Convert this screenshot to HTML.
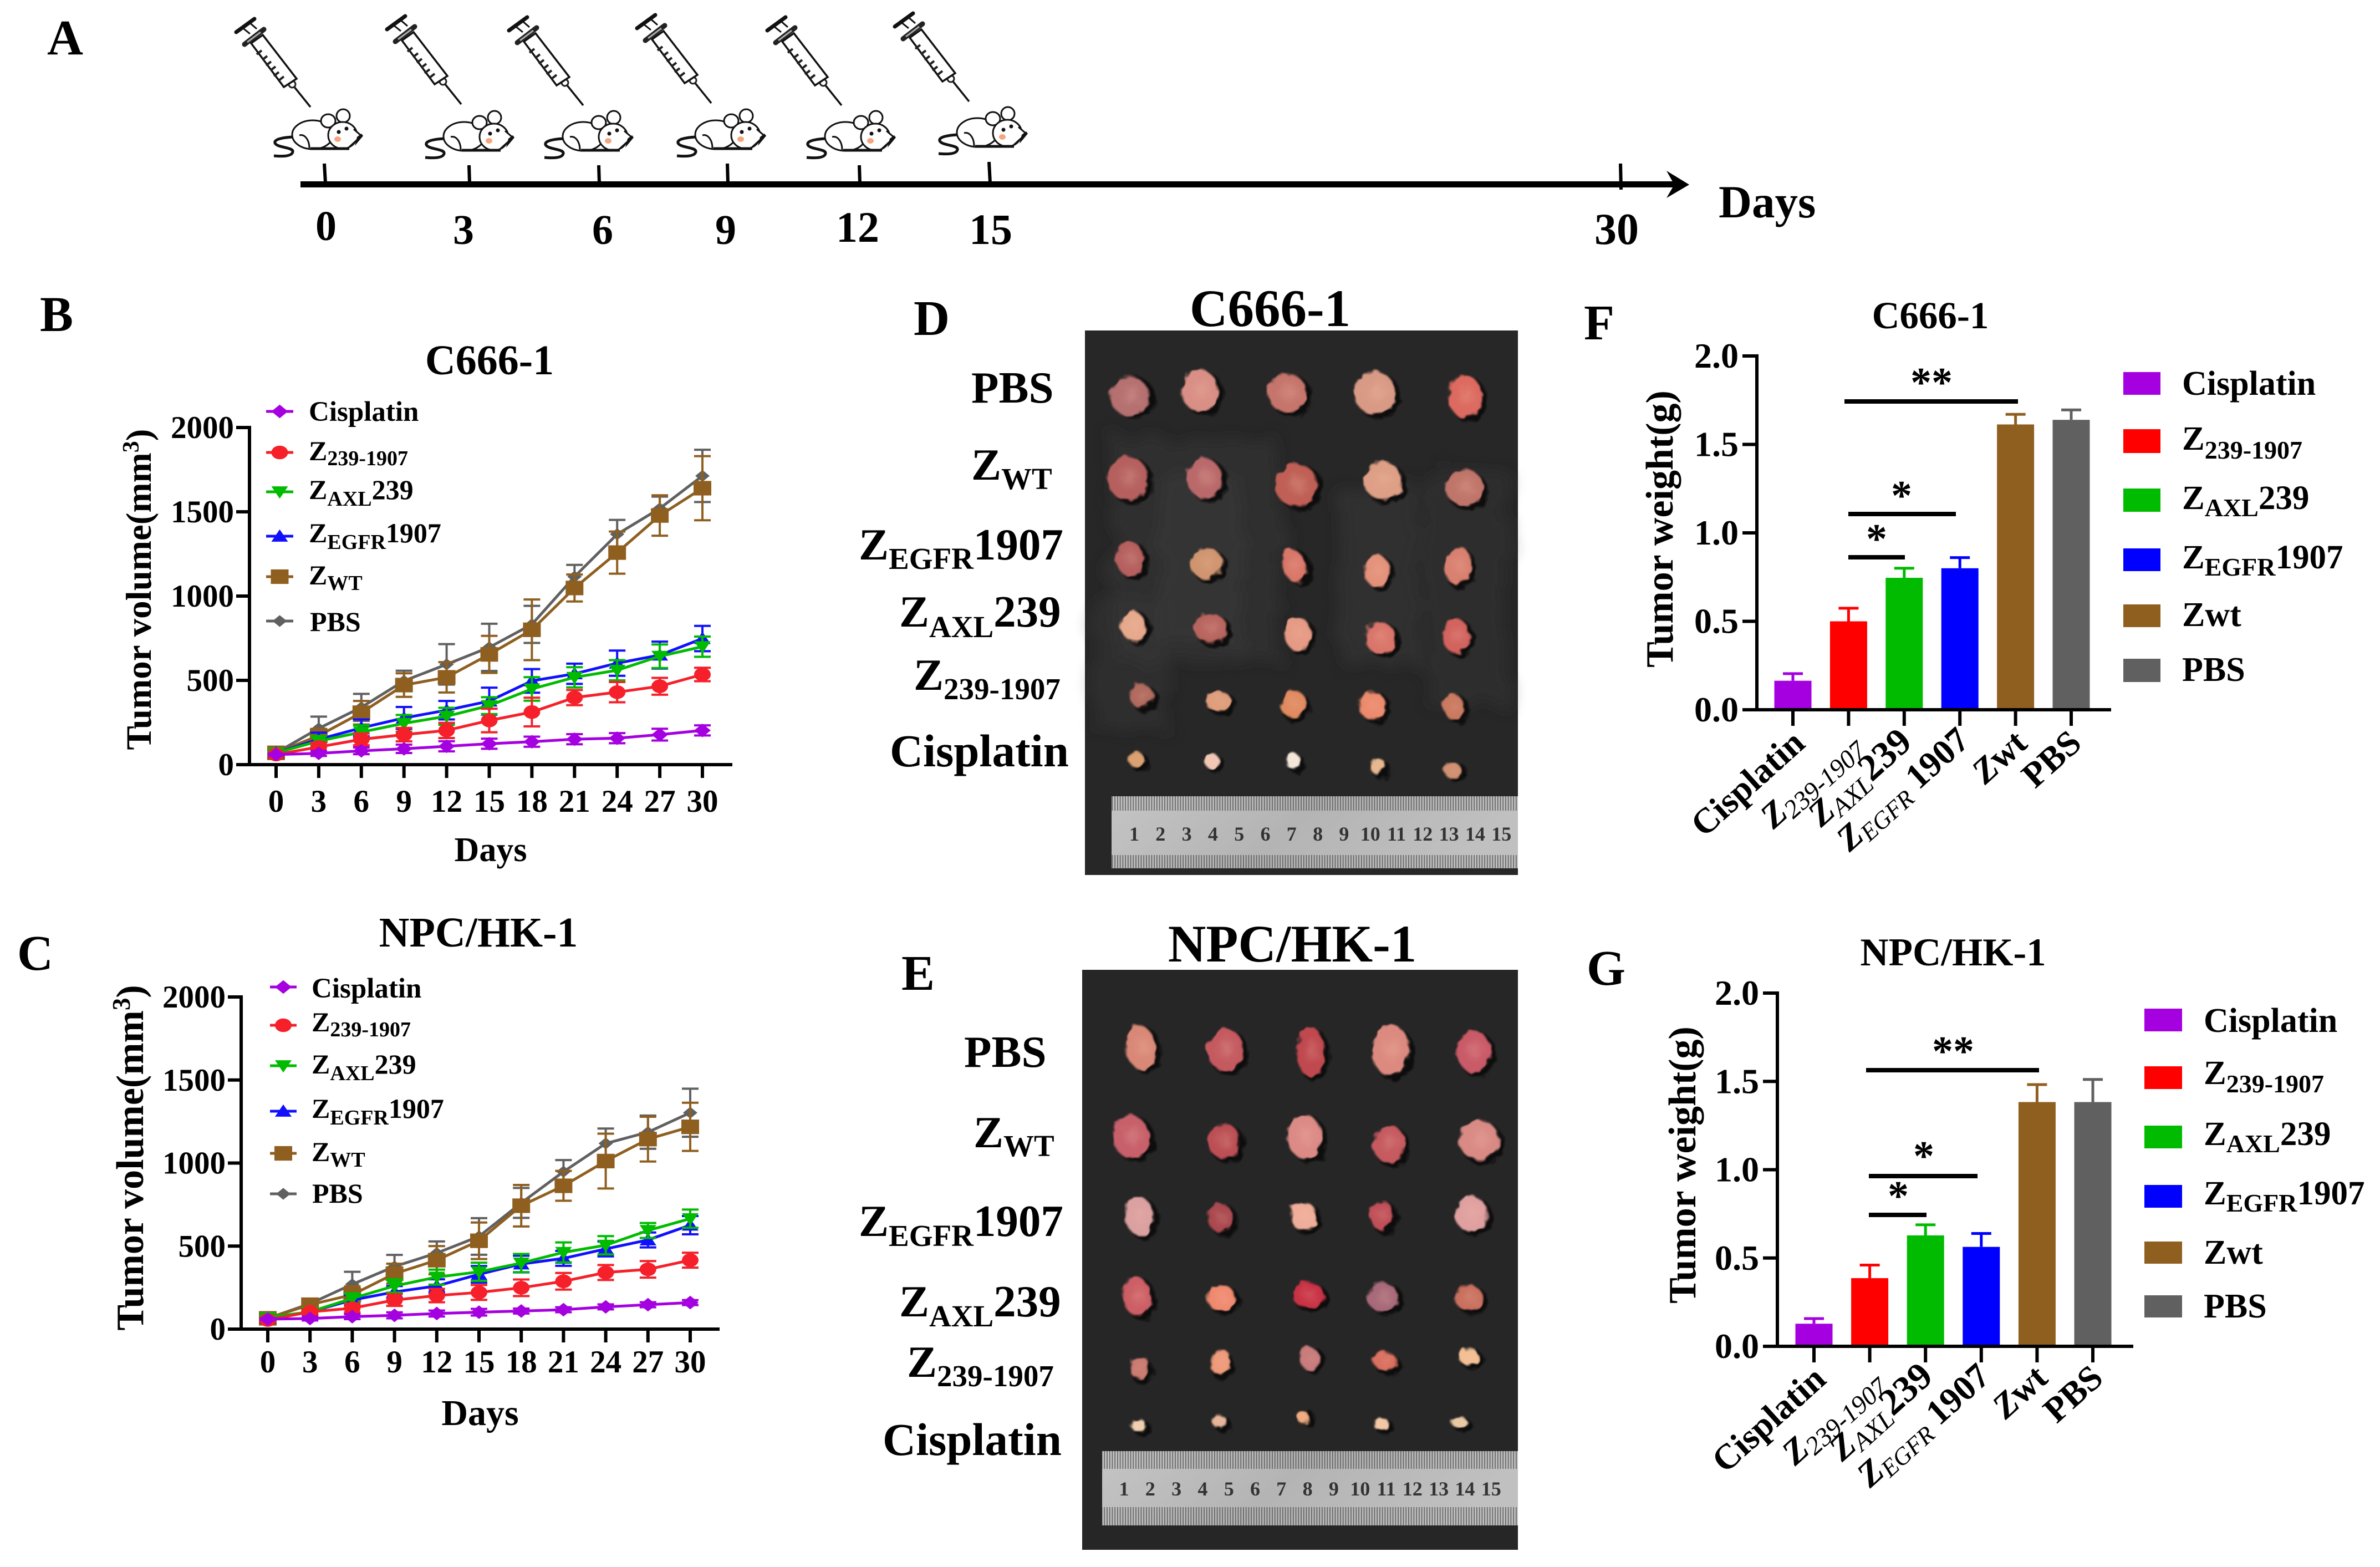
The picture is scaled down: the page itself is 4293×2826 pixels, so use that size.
<!DOCTYPE html>
<html lang="en">
<head>
<meta charset="utf-8">
<title>Tumor study figure</title>
<style>
html,body{margin:0;padding:0;background:#fff;}
svg{display:block;}
text{font-family:"Liberation Serif",serif;font-weight:bold;fill:#000;}
.thin{font-weight:normal;}
.ital{font-style:italic;}
</style>
</head>
<body>
<svg id="fig" xmlns="http://www.w3.org/2000/svg" width="4293" height="2826" viewBox="0 0 4293 2826">
<defs>
  <g id="syringe-shape">
    <line x1="0" y1="0" x2="-29" y2="-36" stroke="#111" stroke-width="3.5"/>
    <circle cx="-33" cy="-41" r="6" fill="#fff" stroke="#222" stroke-width="3"/>
    <polygon points="-107,-115 -86,-130 -25,-51 -48,-36" fill="#fff" stroke="#111" stroke-width="3.5"/>
    <path d="M-88,-102l-9,7M-78,-92l-9,7M-71,-82l-9,7M-63,-73l-9,7M-57,-63l-9,7M-48,-55l-9,7" stroke="#222" stroke-width="4" fill="none"/>
    <line x1="-119" y1="-113" x2="-84" y2="-140" stroke="#222" stroke-width="9" stroke-linecap="round"/>
    <line x1="-114" y1="-117" x2="-90" y2="-135" stroke="#aaa" stroke-width="3"/>
    <line x1="-109" y1="-132" x2="-124" y2="-144" stroke="#111" stroke-width="3"/>
    <line x1="-97" y1="-141" x2="-112" y2="-154" stroke="#111" stroke-width="3"/>
    <line x1="-134" y1="-135" x2="-101" y2="-159" stroke="#111" stroke-width="7" stroke-linecap="round"/>
  </g>
  <g id="mouse-shape" fill="#fff" stroke="#111" stroke-width="3">
    <path d="M36,50 C18,51 2,54 4,61 C8,70 38,68 36,77 C34,86 14,85 2,84" fill="none" stroke-width="5"/>
    <ellipse cx="72" cy="46" rx="37" ry="26"/>
    <ellipse cx="100" cy="21" rx="13" ry="12"/>
    <ellipse cx="127" cy="12" rx="12" ry="12"/>
    <ellipse cx="126" cy="47" rx="26" ry="24"/>
    <path d="M146,36 L160,48 L138,68" fill="#fff"/>
    <path d="M152,50 L160,44 L163,48 L148,66 Z" fill="#111" stroke="none"/>
    <path d="M48,47 C58,44 66,56 66,70" fill="none"/>
    <path d="M68,71 L138,71" stroke-width="5" fill="none"/>
    <circle cx="119" cy="41" r="3.5" fill="#111" stroke="none"/>
    <circle cx="133" cy="35" r="3.5" fill="#111" stroke="none"/>
    <ellipse cx="117" cy="54" rx="6" ry="5" fill="#f5a67f" stroke="none"/>
  </g>
  <filter id="soft" x="-30%" y="-30%" width="160%" height="160%"><feGaussianBlur stdDeviation="1.6"/></filter>
  <filter id="softer" x="-60%" y="-60%" width="220%" height="220%"><feGaussianBlur stdDeviation="7"/></filter>
  <filter id="patchblur" x="-20%" y="-20%" width="140%" height="140%">
    <feTurbulence type="fractalNoise" baseFrequency="0.02" numOctaves="3" seed="4" result="n"/>
    <feDisplacementMap in="SourceGraphic" in2="n" scale="60" result="d"/>
    <feGaussianBlur in="d" stdDeviation="12"/>
  </filter>
  <filter id="rough" x="-5%" y="-5%" width="110%" height="110%">
    <feTurbulence type="fractalNoise" baseFrequency="0.05" numOctaves="2" seed="7" result="n"/>
    <feDisplacementMap in="SourceGraphic" in2="n" scale="13"/>
  </filter>
  <pattern id="ruler-ticks" width="4.73" height="10" patternUnits="userSpaceOnUse"><rect width="1.8" height="10" fill="#444"/></pattern>
  <linearGradient id="ruler-grad" x1="0" y1="0" x2="1" y2="0.2"><stop offset="0" stop-color="#c4c4c4"/><stop offset=".5" stop-color="#b4b4b4"/><stop offset="1" stop-color="#c0c0c0"/></linearGradient>
</defs>
<rect width="4293" height="2826" fill="#fff"/>

<!-- panel letters -->
<text x="85" y="98" font-size="90">A</text>
<text x="72" y="597" font-size="90">B</text>
<text x="31" y="1749" font-size="90">C</text>
<text x="1648" y="604" font-size="90">D</text>
<text x="1626" y="1785" font-size="90">E</text>
<text x="2857" y="612" font-size="90">F</text>
<text x="2862" y="1776" font-size="90">G</text>

<!-- panel A timeline -->
<g>
  <use href="#syringe-shape" transform="translate(560,193)"/>
  <use href="#syringe-shape" transform="translate(832,188)"/>
  <use href="#syringe-shape" transform="translate(1052,190)"/>
  <use href="#syringe-shape" transform="translate(1283,186)"/>
  <use href="#syringe-shape" transform="translate(1518,190)"/>
  <use href="#syringe-shape" transform="translate(1748,183)"/>
  <use href="#mouse-shape" transform="translate(492,197)"/>
  <use href="#mouse-shape" transform="translate(765,200)"/>
  <use href="#mouse-shape" transform="translate(980,200)"/>
  <use href="#mouse-shape" transform="translate(1219,197)"/>
  <use href="#mouse-shape" transform="translate(1453,200)"/>
  <use href="#mouse-shape" transform="translate(1691,193)"/>
  <rect x="542" y="327" width="2480" height="11" fill="#000"/>
  <path d="M3006,308 L3047,333 L3006,357 L3020,333 Z" fill="#000"/>
  <g stroke="#000" stroke-width="6">
    <line x1="585" y1="295" x2="587" y2="330"/>
    <line x1="846" y1="298" x2="847" y2="330"/>
    <line x1="1080" y1="298" x2="1081" y2="330"/>
    <line x1="1312" y1="295" x2="1313" y2="330"/>
    <line x1="1550" y1="298" x2="1551" y2="330"/>
    <line x1="1784" y1="292" x2="1786" y2="330"/>
    <line x1="2923" y1="295" x2="2924" y2="342"/>
  </g>
  <text x="588" y="433" font-size="76" text-anchor="middle">0</text>
  <text x="836" y="440" font-size="76" text-anchor="middle">3</text>
  <text x="1087" y="440" font-size="76" text-anchor="middle">6</text>
  <text x="1309" y="440" font-size="76" text-anchor="middle">9</text>
  <text x="1547" y="436" font-size="78" text-anchor="middle">12</text>
  <text x="1787" y="440" font-size="78" text-anchor="middle">15</text>
  <text x="2916" y="440" font-size="80" text-anchor="middle">30</text>
  <text x="3100" y="392" font-size="83">Days</text>
</g>

<!-- panel B static text -->
<g id="chartB">
  <text x="883" y="675" font-size="76" text-anchor="middle">C666-1</text>
  <text x="885" y="1553" font-size="62" text-anchor="middle">Days</text>
  <text transform="translate(272,1063) rotate(-90)" font-size="65" text-anchor="middle">Tumor volume(mm<tspan dy="-22" font-size="42">3</tspan><tspan dy="22">)</tspan></text>
  <g font-size="50">
    <text x="557" y="759" font-size="51">Cisplatin</text>
    <text x="557" y="830">Z<tspan dy="9" font-size="38">239-1907</tspan></text>
    <text x="557" y="900">Z<tspan dy="12" font-size="38">AXL</tspan><tspan dy="-12">239</tspan></text>
    <text x="557" y="978">Z<tspan dy="12" font-size="38">EGFR</tspan><tspan dy="-12">1907</tspan></text>
    <text x="557" y="1054">Z<tspan dy="10" font-size="38">WT</tspan></text>
    <text x="559" y="1138">PBS</text>
  </g>
</g>

<!-- panel C static text -->
<g id="chartC">
  <text x="863" y="1707" font-size="76" text-anchor="middle">NPC/HK-1</text>
  <text x="866" y="2570" font-size="66" text-anchor="middle">Days</text>
  <text transform="translate(258,2088) rotate(-90)" font-size="70" text-anchor="middle">Tumor volume(mm<tspan dy="-24" font-size="45">3</tspan><tspan dy="24">)</tspan></text>
  <g font-size="50">
    <text x="562" y="1799" font-size="51">Cisplatin</text>
    <text x="562" y="1860">Z<tspan dy="9" font-size="38">239-1907</tspan></text>
    <text x="562" y="1936">Z<tspan dy="12" font-size="38">AXL</tspan><tspan dy="-12">239</tspan></text>
    <text x="562" y="2016">Z<tspan dy="12" font-size="38">EGFR</tspan><tspan dy="-12">1907</tspan></text>
    <text x="562" y="2094">Z<tspan dy="10" font-size="38">WT</tspan></text>
    <text x="563" y="2169">PBS</text>
  </g>
</g>

<!-- panel D -->
<g>
  <text x="2291" y="588" font-size="95" text-anchor="middle">C666-1</text>
  <g font-size="81">
    <text x="1752" y="726">PBS</text>
    <text x="1752" y="865">Z<tspan dy="17" font-size="55">WT</tspan></text>
    <text x="1549" y="1009">Z<tspan dy="17" font-size="55">EGFR</tspan><tspan dy="-17">1907</tspan></text>
    <text x="1622" y="1130">Z<tspan dy="19" font-size="55">AXL</tspan><tspan dy="-19">239</tspan></text>
    <text x="1648" y="1244">Z<tspan dy="17" font-size="55">239-1907</tspan></text>
    <text x="1605" y="1382" font-size="83">Cisplatin</text>
  </g>
  <rect x="1957" y="596" width="781" height="982" fill="#272727"/>
  <g filter="url(#patchblur)" fill="#3a3a3a">
    <rect x="2005" y="790" width="300" height="400" opacity=".5"/>
    <rect x="2090" y="860" width="150" height="300" opacity=".5"/>
    <rect x="2420" y="880" width="140" height="320" opacity=".45"/>
    <rect x="2570" y="850" width="150" height="420" opacity=".4"/>
    <rect x="1975" y="1080" width="130" height="240" opacity=".35"/>
  </g>
  <g id="tumorsD" filter="url(#rough)"></g>
  <g id="rulerD">
    <rect x="2005" y="1436" width="733" height="130" fill="url(#ruler-grad)"/>
    <rect x="2005" y="1436" width="733" height="26" fill="url(#ruler-ticks)" opacity=".7"/>
    <rect x="2005" y="1542" width="733" height="24" fill="url(#ruler-ticks)" opacity=".7"/>
  </g>
</g>

<!-- panel E -->
<g>
  <text x="2331" y="1734" font-size="95" text-anchor="middle">NPC/HK-1</text>
  <g font-size="81">
    <text x="1739" y="1924">PBS</text>
    <text x="1756" y="2069">Z<tspan dy="16" font-size="55">WT</tspan></text>
    <text x="1549" y="2229">Z<tspan dy="18" font-size="55">EGFR</tspan><tspan dy="-18">1907</tspan></text>
    <text x="1622" y="2374">Z<tspan dy="18" font-size="55">AXL</tspan><tspan dy="-18">239</tspan></text>
    <text x="1636" y="2483">Z<tspan dy="17" font-size="55">239-1907</tspan></text>
    <text x="1592" y="2624" font-size="83">Cisplatin</text>
  </g>
  <rect x="1952" y="1749" width="786" height="1046" fill="#262626"/>
  <g id="tumorsE" filter="url(#rough)"></g>
  <g id="rulerE">
    <rect x="1988" y="2617" width="750" height="134" fill="url(#ruler-grad)"/>
    <rect x="1988" y="2617" width="750" height="32" fill="url(#ruler-ticks)" opacity=".7"/>
    <rect x="1988" y="2718" width="750" height="33" fill="url(#ruler-ticks)" opacity=".7"/>
  </g>
</g>

<!-- panel F -->
<g id="chartF">
  <text x="3482" y="592" font-size="69" text-anchor="middle">C666-1</text>
  <text transform="translate(3017,954) rotate(-90)" font-size="70" text-anchor="middle">Tumor weight(g)</text>
  <g font-size="61">
    <rect x="3830" y="671" width="67" height="41" fill="#a400e0"/>
    <rect x="3830" y="774" width="67" height="43" fill="#ff0000"/>
    <rect x="3830" y="881" width="67" height="42" fill="#00bb00"/>
    <rect x="3830" y="989" width="67" height="41" fill="#0000ff"/>
    <rect x="3830" y="1090" width="67" height="41" fill="#8f5f20"/>
    <rect x="3830" y="1188" width="67" height="42" fill="#606060"/>
    <text x="3936" y="712" font-size="62">Cisplatin</text>
    <text x="3936" y="811">Z<tspan dy="16" font-size="46">239-1907</tspan></text>
    <text x="3936" y="918">Z<tspan dy="13" font-size="46">AXL</tspan><tspan dy="-13">239</tspan></text>
    <text x="3936" y="1025">Z<tspan dy="13" font-size="46">EGFR</tspan><tspan dy="-13">1907</tspan></text>
    <text x="3936" y="1129" font-size="62">Zwt</text>
    <text x="3936" y="1228" font-size="62">PBS</text>
  </g>
  <g>
    <line x1="3327" y1="724" x2="3640" y2="724" stroke="#000" stroke-width="8"/>
    <line x1="3334" y1="927" x2="3528" y2="927" stroke="#000" stroke-width="8"/>
    <line x1="3334" y1="1005" x2="3436" y2="1005" stroke="#000" stroke-width="8"/>
    <text x="3484" y="715" font-size="76" text-anchor="middle">**</text>
    <text x="3430" y="919" font-size="76" text-anchor="middle">*</text>
    <text x="3385" y="997" font-size="76" text-anchor="middle">*</text>
  </g>
  <g font-size="64">
    <text transform="translate(3259,1345) rotate(-42)" text-anchor="end">Cisplatin</text>
    <text transform="translate(3362,1350) rotate(-42)" text-anchor="end"><tspan class="ital">Z</tspan><tspan class="thin ital" dy="10" font-size="47">239-1907</tspan></text>
    <text transform="translate(3452,1343) rotate(-42)" text-anchor="end"><tspan class="ital">Z</tspan><tspan class="thin ital" dy="10" font-size="47">AXL</tspan><tspan dy="-10" font-size="68">239</tspan></text>
    <text transform="translate(3556,1340) rotate(-42)" text-anchor="end"><tspan class="ital">Z</tspan><tspan class="thin ital" dy="10" font-size="44">EGFR</tspan><tspan dy="-10"> 1907</tspan></text>
    <text transform="translate(3660,1345) rotate(-42)" text-anchor="end"><tspan class="ital">Z</tspan>wt</text>
    <text transform="translate(3758,1345) rotate(-42)" text-anchor="end">PBS</text>
  </g>
</g>

<!-- panel G -->
<g id="chartG">
  <text x="3523" y="1741" font-size="71" text-anchor="middle">NPC/HK-1</text>
  <text transform="translate(3058,2101) rotate(-90)" font-size="70" text-anchor="middle">Tumor weight(g)</text>
  <g font-size="61">
    <rect x="3868" y="1819" width="68" height="41" fill="#a400e0"/>
    <rect x="3868" y="1923" width="68" height="41" fill="#ff0000"/>
    <rect x="3868" y="2030" width="68" height="41" fill="#00bb00"/>
    <rect x="3868" y="2137" width="68" height="41" fill="#0000ff"/>
    <rect x="3868" y="2239" width="68" height="40" fill="#8f5f20"/>
    <rect x="3868" y="2336" width="68" height="40" fill="#606060"/>
    <text x="3975" y="1861" font-size="62">Cisplatin</text>
    <text x="3975" y="1955">Z<tspan dy="15" font-size="46">239-1907</tspan></text>
    <text x="3975" y="2065">Z<tspan dy="13" font-size="46">AXL</tspan><tspan dy="-13">239</tspan></text>
    <text x="3975" y="2172">Z<tspan dy="13" font-size="46">EGFR</tspan><tspan dy="-13">1907</tspan></text>
    <text x="3975" y="2279" font-size="62">Zwt</text>
    <text x="3975" y="2376" font-size="62">PBS</text>
  </g>
  <g>
    <line x1="3366" y1="1930" x2="3678" y2="1930" stroke="#000" stroke-width="8"/>
    <line x1="3371" y1="2121" x2="3567" y2="2121" stroke="#000" stroke-width="8"/>
    <line x1="3371" y1="2191" x2="3475" y2="2191" stroke="#000" stroke-width="8"/>
    <text x="3523" y="1921" font-size="76" text-anchor="middle">**</text>
    <text x="3470" y="2110" font-size="76" text-anchor="middle">*</text>
    <text x="3424" y="2182" font-size="76" text-anchor="middle">*</text>
  </g>
  <g font-size="64">
    <text transform="translate(3297,2492) rotate(-42)" text-anchor="end">Cisplatin</text>
    <text transform="translate(3401,2498) rotate(-42)" text-anchor="end"><tspan class="ital">Z</tspan><tspan class="thin ital" dy="10" font-size="47">239-1907</tspan></text>
    <text transform="translate(3490,2487) rotate(-42)" text-anchor="end"><tspan class="ital">Z</tspan><tspan class="thin ital" dy="10" font-size="47">AXL</tspan><tspan dy="-10" font-size="68">239</tspan></text>
    <text transform="translate(3593,2487) rotate(-42)" text-anchor="end"><tspan class="ital">Z</tspan><tspan class="thin ital" dy="10" font-size="44">EGFR</tspan><tspan dy="-10"> 1907</tspan></text>
    <text transform="translate(3697,2490) rotate(-42)" text-anchor="end"><tspan class="ital">Z</tspan>wt</text>
    <text transform="translate(3797,2490) rotate(-42)" text-anchor="end">PBS</text>
  </g>
</g>
</svg>

<script>
/* ---------- chart data ---------- */
const days = [0,3,6,9,12,15,18,21,24,27,30];
const volumeTickLabels = [0,500,1000,1500,2000];
const weightTickLabels = [0,0.5,1,1.5,2];
const weightCategories = ['Cisplatin','Z239-1907','ZAXL239','ZEGFR1907','Zwt','PBS'];

const c666Pbs = [70,215,340,497,595,696,832,1115,1367,1520,1713];
const c666PbsErr = [10,70,80,60,120,140,110,70,85,70,155];
const c666Zwt = [70,172,308,472,518,654,800,1048,1258,1478,1640];
const c666ZwtErr = [10,40,70,70,90,110,180,80,125,120,190];
const c666Egfr = [70,150,218,277,323,377,497,539,602,650,748];
const c666EgfrErr = [8,40,50,65,55,80,70,60,75,80,75];
const c666Axl = [70,140,193,245,287,350,449,518,560,643,700];
const c666AxlErr = [8,30,40,50,50,50,70,60,60,70,60];
const c666Z239 = [60,105,150,178,203,262,312,398,430,465,535];
const c666Z239Err = [8,25,35,40,45,70,85,45,60,50,40];
const c666Cis = [60,67,82,94,109,124,136,151,157,178,203];
const c666CisErr = [5,15,20,25,30,30,30,30,30,35,30];

const npcPbs = [65,153,270,377,458,558,760,948,1118,1186,1303];
const npcPbsErr = [10,20,75,70,70,110,90,70,90,100,145];
const npcZwt = [65,147,207,334,415,532,743,863,1012,1144,1218];
const npcZwtErr = [10,20,50,60,85,110,125,90,165,135,145];
const npcEgfr = [65,104,175,224,260,330,392,426,483,537,626];
const npcEgfrErr = [8,15,30,35,40,50,50,45,45,45,55];
const npcAxl = [70,104,185,260,313,345,398,462,505,594,665];
const npcAxlErr = [8,15,30,40,45,55,55,60,55,45,55];
const npcZ239 = [55,104,126,175,202,221,249,288,341,360,415];
const npcZ239Err = [8,15,25,35,40,45,50,50,45,50,45];
const npcCis = [60,64,75,83,94,102,109,117,134,147,160];
const npcCisErr = [5,12,15,18,18,20,15,15,15,15,15];

const c666Weight = [0.164,0.50,0.746,0.80,1.613,1.639];
const c666WeightErr = [0.04,0.074,0.054,0.06,0.057,0.056];
const npcWeight = [0.128,0.386,0.628,0.563,1.383,1.383];
const npcWeightErr = [0.029,0.074,0.06,0.076,0.099,0.128];

/* ---------- helpers ---------- */
const NS = 'http://www.w3.org/2000/svg';
function mk(tag, attrs, parent){
  const n = document.createElementNS(NS, tag);
  for (const k in attrs) n.setAttribute(k, attrs[k]);
  if (parent) parent.appendChild(n);
  return n;
}
const colors = {cis:'#a400e0', z239:'#f5202a', axl:'#00bb00', egfr:'#1010ff', zwt:'#8f5f20', pbs:'#606060'};

function drawMarker(parent, type, x, y, color, s){
  const h = s*0.82;
  let m;
  if (type === 'square') m = mk('rect', {x:x-s, y:y-h, width:2*s, height:2*h, fill:color}, parent);
  else if (type === 'circle') m = mk('ellipse', {cx:x, cy:y, rx:s, ry:h, fill:color}, parent);
  else if (type === 'down') m = mk('polygon', {points:`${x-s},${y-h*0.8} ${x+s},${y-h*0.8} ${x},${y+h}`, fill:color}, parent);
  else if (type === 'up') m = mk('polygon', {points:`${x-s},${y+h*0.8} ${x+s},${y+h*0.8} ${x},${y-h}`, fill:color}, parent);
  else m = mk('polygon', {points:`${x-s},${y} ${x},${y-h} ${x+s},${y} ${x},${y+h}`, fill:color}, parent);
  
  
  return m;
}

function drawLineChart(root, cfg, seriesList){
  const xScale = d => cfg.x0 + (d/30)*(cfg.x30-cfg.x0);
  const yScale = v => cfg.y0 - (v/2000)*(cfg.y0-cfg.y2000);
  const axes = mk('g', {stroke:'#000', 'stroke-width':6, fill:'none'}, root);
  
  
  const yAxis = mk('line', {x1:cfg.axisX, x2:cfg.axisX, y1:cfg.y2000-3, y2:cfg.y0+3}, axes);
  
  
  const xAxis = mk('line', {x1:cfg.axisX-24, x2:cfg.axisEnd, y1:cfg.y0, y2:cfg.y0}, axes);
  
  
  volumeTickLabels.forEach(v => {
    const t = mk('line', {x1:cfg.axisX-24, x2:cfg.axisX, y1:yScale(v), y2:yScale(v)}, axes);
    
    
    const l = mk('text', {x:cfg.axisX-28, y:yScale(v)+19, 'font-size':57, 'text-anchor':'end', stroke:'none'}, root);
    l.textContent = v;
    
    
  });
  days.forEach(d => {
    const t = mk('line', {x1:xScale(d), x2:xScale(d), y1:cfg.y0, y2:cfg.y0+24}, axes);
    
    
    const l = mk('text', {x:xScale(d), y:cfg.labelY, 'font-size':57, 'text-anchor':'middle'}, root);
    l.textContent = d;
    
    
  });
  seriesList.forEach(s => {
    const g = mk('g', {}, root);
    
    
    s.values.forEach((v, i) => {
      const x = xScale(days[i]), hi = yScale(v + s.err[i]), lo = yScale(v - s.err[i]);
      const e = mk('path', {d:`M${x-15},${hi}H${x+15}M${x},${hi}V${lo}M${x-15},${lo}H${x+15}`, stroke:s.color, 'stroke-width':4, fill:'none'}, g);
      
      
    });
    const pts = s.values.map((v, i) => xScale(days[i]) + ',' + yScale(v)).join(' ');
    const line = mk('polyline', {points:pts, fill:'none', stroke:s.color, 'stroke-width':5}, g);
    
    
    s.values.forEach((v, i) => drawMarker(g, s.marker, xScale(days[i]), yScale(v), s.color, s.size));
    const lg = mk('line', {x1:cfg.legendX1, x2:cfg.legendX2, y1:s.legendY, y2:s.legendY, stroke:s.color, 'stroke-width':5}, root);
    
    
    drawMarker(root, s.marker, (cfg.legendX1+cfg.legendX2)/2, s.legendY, s.color, s.size);
  });
}

function drawBarChart(root, cfg, values, errs){
  const xScale = i => cfg.first + i*cfg.step;
  const yScale = v => cfg.y0 - (v/2)*(cfg.y0-cfg.y2);
  const barColors = [colors.cis, '#ff0000', colors.axl, '#0000ff', colors.zwt, colors.pbs];
  values.forEach((v, i) => {
    const x = xScale(i);
    const err = mk('path', {d:`M${x},${yScale(v)}V${yScale(v+errs[i])}M${x-18},${yScale(v+errs[i])}H${x+18}`, stroke:barColors[i], 'stroke-width':5, fill:'none'}, root);
    
    
    const b = mk('rect', {x:x-33.5, y:yScale(v), width:67, height:cfg.y0-yScale(v), fill:barColors[i]}, root);
    
    
    const t = mk('line', {x1:x, x2:x, y1:cfg.y0, y2:cfg.y0+29, stroke:'#000', 'stroke-width':6}, root);
    
    
  });
  const yAxis = mk('line', {x1:cfg.axisX, x2:cfg.axisX, y1:cfg.y2-3, y2:cfg.y0+3, stroke:'#000', 'stroke-width':6}, root);
  
  
  const xAxis = mk('line', {x1:cfg.axisX-26, x2:cfg.axisEnd, y1:cfg.y0, y2:cfg.y0, stroke:'#000', 'stroke-width':6}, root);
  
  
  weightTickLabels.forEach(v => {
    const t = mk('line', {x1:cfg.axisX-26, x2:cfg.axisX, y1:yScale(v), y2:yScale(v), stroke:'#000', 'stroke-width':6}, root);
    
    
    const l = mk('text', {x:cfg.axisX-33, y:yScale(v)+21, 'font-size':64, 'text-anchor':'end'}, root);
    l.textContent = v.toFixed(1);
    
    
  });
}

/* ---------- charts ---------- */
drawLineChart(document.getElementById('chartB'),
  {x0:498, x30:1267, y0:1379, y2000:771, axisX:450, axisEnd:1321, labelY:1464, legendX1:480, legendX2:529},
  [
    {name:'pbs', values:c666Pbs, err:c666PbsErr, color:colors.pbs, marker:'diamond', size:13, legendY:1120},
    {name:'zwt', values:c666Zwt, err:c666ZwtErr, color:colors.zwt, marker:'square', size:16, legendY:1040},
    {name:'zegfr1907', values:c666Egfr, err:c666EgfrErr, color:colors.egfr, marker:'up', size:15, legendY:967},
    {name:'zaxl239', values:c666Axl, err:c666AxlErr, color:colors.axl, marker:'down', size:15, legendY:887},
    {name:'z239-1907', values:c666Z239, err:c666Z239Err, color:colors.z239, marker:'circle', size:15, legendY:816},
    {name:'cisplatin', values:c666Cis, err:c666CisErr, color:colors.cis, marker:'diamond', size:15, legendY:742}
  ]);
drawLineChart(document.getElementById('chartC'),
  {x0:483, x30:1245, y0:2397, y2000:1798, axisX:435, axisEnd:1298, labelY:2475, legendX1:487, legendX2:535},
  [
    {name:'pbs', values:npcPbs, err:npcPbsErr, color:colors.pbs, marker:'diamond', size:13, legendY:2153},
    {name:'zwt', values:npcZwt, err:npcZwtErr, color:colors.zwt, marker:'square', size:16, legendY:2080},
    {name:'zegfr1907', values:npcEgfr, err:npcEgfrErr, color:colors.egfr, marker:'up', size:15, legendY:2004},
    {name:'zaxl239', values:npcAxl, err:npcAxlErr, color:colors.axl, marker:'down', size:15, legendY:1922},
    {name:'z239-1907', values:npcZ239, err:npcZ239Err, color:colors.z239, marker:'circle', size:15, legendY:1849},
    {name:'cisplatin', values:npcCis, err:npcCisErr, color:colors.cis, marker:'diamond', size:15, legendY:1780}
  ]);
drawBarChart(document.getElementById('chartF'),
  {first:3234, step:100.4, y0:1280, y2:642, axisX:3169, axisEnd:3808}, c666Weight, c666WeightErr);
drawBarChart(document.getElementById('chartG'),
  {first:3272, step:100.6, y0:2428, y2:1791, axisX:3206, axisEnd:3848}, npcWeight, npcWeightErr);

/* ---------- photographs ---------- */
const tumorsD = [
  [612,306,42,52,'#b5706f',-25],[765,292,40,54,'#d98f85',-5],[955,298,42,50,'#c5756c',-5],[1145,297,45,55,'#d99a85',0],[1342,307,36,55,'#dc6a60',0],
  [608,517,44,57,'#b5605f',-5],[775,517,38,53,'#b9696a',-10],[975,535,46,56,'#bf5f55',-10],[1163,523,42,48,'#dd9f85',5],[1340,540,42,46,'#c0756a',5],
  [612,723,30,46,'#b5605f',-5],[779,735,35,40,'#d09570',0],[970,742,25,45,'#d9776a',-20],[1150,755,28,42,'#e3917a',-5],[1327,742,28,48,'#d98070',10],
  [620,897,27,40,'#e6a98d',-15],[788,902,36,38,'#b8655f',0],[978,917,29,43,'#e59a85',0],[1157,927,33,41,'#d9756a',-10],[1322,922,29,46,'#d2635f',-5],
  [638,1077,26,30,'#b06b5f',0],[805,1090,29,25,'#df9d7a',0],[968,1097,27,36,'#e08a60',10],[1140,1101,29,36,'#ec8a6d',-5],[1317,1105,23,33,'#c9795f',-10],
  [627,1240,16,21,'#d9a070',0],[792,1245,16,20,'#f1c7b5',0],[968,1244,15,21,'#f5e8dc',0],[1152,1257,15,22,'#e6b88f',5],[1315,1268,18,22,'#cf9070',-15]
];
const tumorsE = [
  [637,332,33,54,'#d98877',-10],[820,336,40,50,'#c45a60',0],[1006,342,30,60,'#bf4a50',0],[1180,338,40,60,'#dc8a80',5],[1360,340,37,50,'#c95a68',0],
  [615,545,40,52,'#c7606a',-10],[817,555,35,42,'#bb4f55',0],[993,545,38,53,'#dc8a85',-5],[1176,562,35,44,'#c55a60',5],[1372,553,43,48,'#d98a85',5],
  [633,735,30,47,'#dba0a0',-5],[810,740,27,35,'#a94a50',-5],[990,735,28,35,'#efae9a',0],[1160,733,26,35,'#bf5058',0],[1355,730,35,43,'#e0a0a0',0],
  [628,928,30,47,'#cc5f65',-5],[812,932,31,31,'#ef8a70',0],[1000,924,35,30,'#c83045',0],[1163,930,33,35,'#a86a7a',-10],[1350,931,30,31,'#c9705f',0],
  [634,1098,20,27,'#c97a70',15],[810,1085,20,30,'#ee9a7a',20],[1004,1077,22,28,'#c77a7a',-15],[1168,1083,27,22,'#d97060',10],[1350,1072,22,20,'#f3c095',0],
  [632,1237,16,15,'#f0d0b0',0],[807,1227,15,16,'#e6b59a',0],[990,1218,13,15,'#f0ab80',-30],[1160,1234,17,15,'#f3c8a5',0],[1329,1229,17,13,'#eac9a5',0]
];
function drawTumors(root, list, ox, oy, sx, sy){
  list.forEach(t => {
    const cx = ox + t[0]/sx, cy = oy + t[1]/sy, rx = t[2]/sx, ry = t[3]/sy;
    const tf = `rotate(${t[5]} ${cx} ${cy})`;
    const shadow = mk('ellipse', {cx:cx+7, cy:cy+6, rx:rx+2, ry:ry+2, fill:'#0c0c0c', filter:'url(#soft)', transform:tf}, root);
    
    
    const body = mk('ellipse', {cx:cx, cy:cy, rx:rx, ry:ry, fill:t[4], filter:'url(#soft)', transform:tf}, root);
    
    
    const hl = mk('ellipse', {cx:cx+rx*0.1, cy:cy-ry*0.05, rx:rx*0.4, ry:ry*0.4, fill:'#f4c4b0', opacity:.22, filter:'url(#softer)'}, root);
    
    
  });
}
drawTumors(document.getElementById('tumorsD'), tumorsD, 1530, 500, 1.206, 1.4255);
drawTumors(document.getElementById('tumorsE'), tumorsE, 1530, 1640, 1.206, 1.329);

const rulerNumbers = [1,2,3,4,5,6,7,8,9,10,11,12,13,14,15];
function drawRulerNumbers(root, startX, baseY){
  rulerNumbers.forEach((n, i) => {
    const t = mk('text', {x:startX + i*47.3, y:baseY, 'font-size':36, 'text-anchor':'middle', style:'fill:#333'}, root);
    t.textContent = n;
    
    
  });
}
drawRulerNumbers(document.getElementById('rulerD'), 2046, 1516);
drawRulerNumbers(document.getElementById('rulerE'), 2027.5, 2697);
</script>
</body>
</html>
